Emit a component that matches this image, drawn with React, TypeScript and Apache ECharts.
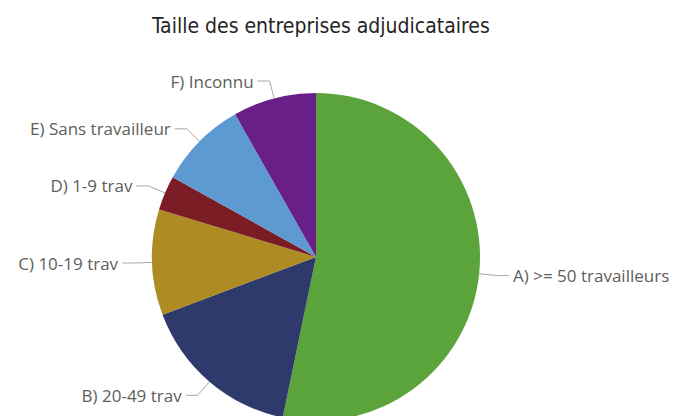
import React, { useEffect, useRef } from "react";
import * as echarts from "echarts";

const categories = [
  "A) >= 50 travailleurs",
  "B) 20-49 trav",
  "C) 10-19 trav",
  "D) 1-9 trav",
  "E) Sans travailleur",
  "F) Inconnu",
];
const values = [53.2, 16.0, 10.4, 3.4, 8.7, 8.2];
const colors = ["#5BA33B", "#2F3A6C", "#AC8C23", "#7A1D24", "#5E9AD2", "#681F88"];
const titleText = "Taille des entreprises adjudicataires";

export default function App() {
  const ref = useRef<HTMLDivElement>(null);
  useEffect(() => {
    document.body.style.margin = "0";
    const chart = echarts.init(ref.current!, null, { renderer: "svg" });
    chart.setOption({
      animation: false,
      title: {
        text: titleText,
        left: 147,
        top: 10,
        textStyle: {
          fontFamily: "DejaVu Sans Condensed, Roboto, sans-serif",
          fontSize: 21,
          fontWeight: "normal",
          color: "#252423",
        },
      },
      series: [
        {
          type: "pie",
          center: [316, 257],
          radius: 164,
          startAngle: 90,
          clockwise: true,
          data: categories.map((c, i) => ({
            name: c,
            value: values[i],
            itemStyle: { color: colors[i] },
          })),
          label: {
            show: true,
            position: "outside",
            formatter: "{b}",
            fontFamily: "Segoe UI, Open Sans, sans-serif",
            fontSize: 17,
            color: "#605E5C",
            distanceToLabelLine: 4,
          },
          labelLine: {
            show: true,
            length: 18,
            length2: 12,
            lineStyle: { color: "#A8A8A8", width: 1 },
          },
          emphasis: { disabled: true },
        },
      ],
    });
    return () => chart.dispose();
  }, []);
  return <div ref={ref} style={{ width: 683, height: 416 }} />;
}
